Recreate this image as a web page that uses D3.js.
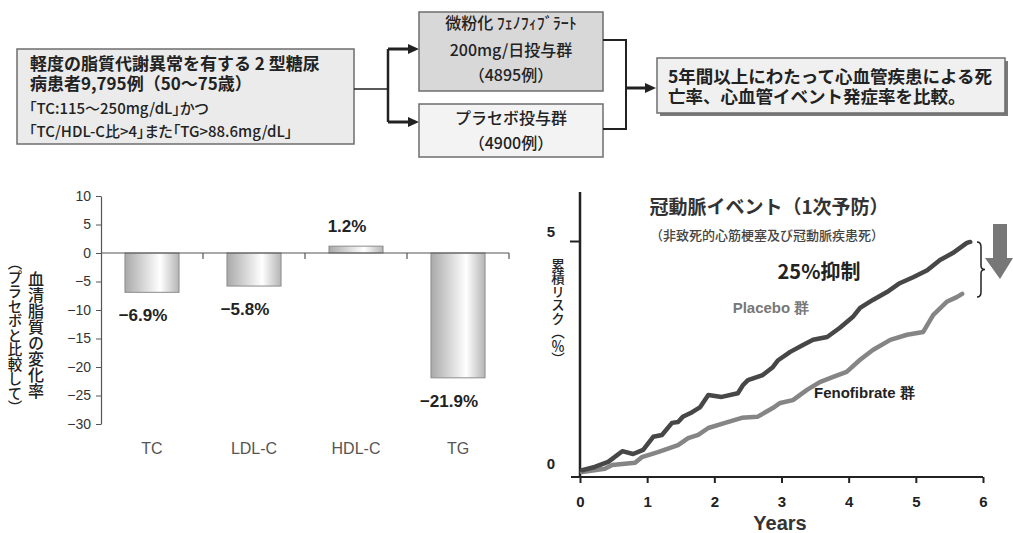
<!DOCTYPE html>
<html>
<head>
<meta charset="utf-8">
<script src="https://cdn.jsdelivr.net/npm/d3@7"></script>
<style>
  html, body { margin: 0; padding: 0; background: #fff; }
  svg { display: block; }
</style>
</head>
<body>
<svg id="chart" width="1013" height="533"></svg>
<script>
// ---- Lipid change vs placebo (%) ----
const categories = ["TC", "LDL-C", "HDL-C", "TG"];
const lipidChange = [-6.9, -5.8, 1.2, -21.9];
const barTicks = [10, 5, 0, -5, -10, -15, -20, -25, -30];

// ---- Cumulative coronary event risk (%) by year ----
const placeboYears = [0.03, 0.22, 0.42, 0.63, 0.79, 0.94, 1.09, 1.22, 1.37, 1.46, 1.53, 1.67, 1.79, 1.91, 2.11, 2.35, 2.43, 2.50, 2.72, 2.87, 2.95, 3.13, 3.32, 3.47, 3.68, 3.87, 4.06, 4.17, 4.36, 4.57, 4.76, 4.96, 5.17, 5.36, 5.55, 5.76, 5.81];
const placeboRisk  = [0.06, 0.13, 0.24, 0.47, 0.41, 0.50, 0.78, 0.82, 1.08, 1.10, 1.21, 1.31, 1.42, 1.68, 1.64, 1.72, 1.90, 2.00, 2.11, 2.28, 2.43, 2.61, 2.76, 2.87, 2.93, 3.13, 3.36, 3.56, 3.73, 3.90, 4.09, 4.22, 4.37, 4.59, 4.74, 4.96, 4.98];
const fenoYears = [0.03, 0.37, 0.48, 0.82, 0.92, 1.16, 1.46, 1.61, 1.76, 1.91, 2.16, 2.41, 2.64, 2.87, 2.98, 3.17, 3.38, 3.57, 3.77, 3.97, 4.17, 4.36, 4.62, 4.87, 5.11, 5.26, 5.46, 5.61, 5.69];
const fenoRisk  = [0.02, 0.09, 0.17, 0.22, 0.34, 0.45, 0.60, 0.75, 0.82, 0.97, 1.08, 1.19, 1.21, 1.40, 1.51, 1.57, 1.79, 1.96, 2.07, 2.18, 2.44, 2.65, 2.87, 2.98, 3.04, 3.41, 3.69, 3.79, 3.86];
const yearTicks = [0, 1, 2, 3, 4, 5, 6];
const riskTicks = [0, 5];

const JP = '"Noto Sans CJK JP", sans-serif';
const LAT = '"Liberation Sans", Arial, sans-serif';

const svg = d3.select("#chart");
const defs = svg.append("defs");

// Vertical (tategaki) text centred on (x, y)
function vtext(g, x, y, str, size, weight) {
  g.append("text").attr("x", x).attr("y", y)
    .attr("text-anchor", "middle").style("writing-mode", "vertical-rl")
    .attr("font-family", JP).attr("font-size", size).attr("font-weight", weight)
    .attr("fill", "#222").text(str);
}

// ================= Study design flow =================
const flow = svg.append("g");

function box(x, y, w, h, fill, shadow) {
  if (shadow) {
    flow.append("rect").attr("x", x + 3).attr("y", y + 3).attr("width", w).attr("height", h)
      .attr("fill", "#7a7a7a");
  }
  flow.append("rect").attr("x", x).attr("y", y).attr("width", w).attr("height", h)
    .attr("fill", fill).attr("stroke", "#6e6e6e").attr("stroke-width", 1.5);
}
function line(pts, w) {
  flow.append("path").attr("d", d3.line()(pts)).attr("fill", "none")
    .attr("stroke", "#222").attr("stroke-width", w);
}
function arrowHead(xTip, y) {
  flow.append("path")
    .attr("d", `M${xTip},${y} L${xTip - 11},${y - 5} L${xTip - 11},${y + 5} Z`)
    .attr("fill", "#222");
}
function txt(x, y, s, size, weight, anchor, fill) {
  return flow.append("text").attr("x", x).attr("y", y).text(s)
    .attr("font-family", JP).attr("font-size", size).attr("font-weight", weight)
    .attr("text-anchor", anchor || "start").attr("fill", fill || "#222");
}

// eligibility box
box(17, 49, 337, 95, "#ebebeb");
txt(30, 70, "軽度の脂質代謝異常を有する 2 型糖尿", 17, 700);
txt(30, 90, "病患者9,795例（50〜75歳）", 17, 700);
txt(29, 114, "「TC:115〜250mg/dL」かつ", 15, 500).style("font-feature-settings", '"palt"');
txt(29, 137, "「TC/HDL-C比>4」また「TG>88.6mg/dL」", 15, 500).style("font-feature-settings", '"palt"');

// split to two arms
line([[354, 89], [388, 89]], 1.5);
line([[388, 49], [388, 122]], 2.5);
line([[388, 49], [409, 49]], 3);
line([[388, 122], [409, 122]], 3);
arrowHead(419, 49);
arrowHead(419, 122);

// treatment arms
box(419, 12, 184, 79, "#d8d8d8");
txt(511, 29, "微粉化 ﾌｪﾉﾌｨﾌﾞﾗｰﾄ", 16, 500, "middle");
txt(511, 56, "200mg/日投与群", 16, 500, "middle");
txt(511, 81, "（4895例）", 16, 500, "middle");

box(419, 104, 184, 53, "#f3f3f3");
txt(511, 124, "プラセボ投与群", 16, 500, "middle");
txt(511, 149, "（4900例）", 16, 500, "middle");

// merge to outcome
line([[603, 40], [626, 40], [626, 129], [603, 129]], 2);
line([[626, 88], [646, 88]], 3);
arrowHead(656, 88);

box(657, 58, 348, 55, "#f0f0f0", true);
txt(668, 83, "5年間以上にわたって心血管疾患による死", 17.5, 700);
txt(668, 103, "亡率、心血管イベント発症率を比較。", 17.5, 700);

// ================= Bar chart: lipid change =================
const xB = d3.scaleBand().domain(categories).range([101, 509])
  .paddingInner(0.47).paddingOuter(0.235);
const yB = d3.scaleLinear().domain([-30, 10]).range([424, 196]);

const grad = defs.append("linearGradient").attr("id", "barGrad")
  .attr("x1", "0%").attr("x2", "100%").attr("y1", "0%").attr("y2", "0%");
grad.append("stop").attr("offset", "0%").attr("stop-color", "#a9a9a9");
grad.append("stop").attr("offset", "65%").attr("stop-color", "#ffffff");
grad.append("stop").attr("offset", "100%").attr("stop-color", "#b4b4b4");

const bars = svg.append("g");
const barData = categories.map((c, i) => ({ c, v: lipidChange[i] }));

bars.selectAll("rect").data(barData).join("rect")
  .attr("x", d => xB(d.c))
  .attr("width", xB.bandwidth())
  .attr("y", d => yB(Math.max(0, d.v)))
  .attr("height", d => Math.abs(yB(d.v) - yB(0)))
  .attr("fill", "url(#barGrad)")
  .attr("stroke", "#8c8c8c").attr("stroke-width", 1);

// y axis
const yAxisB = bars.append("g").attr("transform", "translate(101,0)")
  .call(d3.axisLeft(yB).tickValues(barTicks).tickSize(5).tickPadding(5).tickSizeOuter(0));
yAxisB.select(".domain").attr("stroke", "#555").attr("stroke-width", 1.2);
yAxisB.selectAll(".tick line").attr("stroke", "#555");
yAxisB.selectAll(".tick text").attr("font-family", LAT).attr("font-size", 14)
  .attr("fill", "#333");

// zero baseline with category separators
const step = xB.step();
const sepX = categories.map((c, i) => xB(c) - xB.paddingInner() * step / 2 + step);
bars.append("line").attr("x1", 101).attr("x2", 509).attr("y1", yB(0)).attr("y2", yB(0))
  .attr("stroke", "#555").attr("stroke-width", 1.2);
bars.selectAll("line.sep").data(sepX).join("line").attr("class", "sep")
  .attr("x1", d => d).attr("x2", d => d)
  .attr("y1", yB(0)).attr("y2", yB(0) + 6)
  .attr("stroke", "#555").attr("stroke-width", 1.2);

// category names
bars.selectAll("text.cat").data(categories).join("text").attr("class", "cat")
  .attr("x", d => xB(d) + xB.bandwidth() / 2)
  .attr("y", 454)
  .attr("text-anchor", "middle")
  .attr("font-family", LAT).attr("font-size", 16).attr("fill", "#555")
  .text(d => d);

// value labels
const fmt = d3.format(".1f");
bars.selectAll("text.val").data(barData).join("text").attr("class", "val")
  .attr("x", d => xB(d.c) + xB.bandwidth() / 2 - 9)
  .attr("y", d => d.v >= 0 ? yB(d.v) - 14 : yB(d.v) + 29)
  .attr("text-anchor", "middle")
  .attr("font-family", LAT).attr("font-size", 17).attr("font-weight", 700)
  .attr("fill", "#222")
  .text(d => fmt(d.v) + "%");

// vertical y-axis title
vtext(bars, 36, 335, "血清脂質の変化率", 16, 500);
vtext(bars, 15, 335, "（プラセボと比較して）", 14.5, 500);

// ================= Line chart: coronary events =================
const xL = d3.scaleLinear().domain([0, 6]).range([580, 983]);
const yL = d3.scaleLinear().domain([0, 5]).range([473, 241]);
const lc = svg.append("g");

const xAxisL = lc.append("g").attr("transform", "translate(0,477)")
  .call(d3.axisBottom(xL).tickValues(yearTicks).tickFormat(d3.format("d"))
    .tickSize(6).tickPadding(13).tickSizeOuter(0));
xAxisL.select(".domain").remove();
xAxisL.selectAll(".tick line").attr("stroke", "#222").attr("stroke-width", 2);
xAxisL.selectAll(".tick text").attr("font-family", LAT).attr("font-size", 15)
  .attr("font-weight", 700).attr("fill", "#222");
lc.append("line").attr("x1", 571).attr("x2", xL(6)).attr("y1", 477).attr("y2", 477)
  .attr("stroke", "#222").attr("stroke-width", 2);

const yAxisL = lc.append("g").attr("transform", "translate(580,0)")
  .call(d3.axisLeft(yL).tickValues(riskTicks).tickFormat(d3.format("d"))
    .tickSize(10).tickPadding(15).tickSizeOuter(0));
yAxisL.select(".domain").remove();
yAxisL.selectAll(".tick line").attr("stroke", "#222").attr("stroke-width", 2)
  .attr("opacity", d => d === 0 ? 0 : 1);
yAxisL.selectAll(".tick text").attr("font-family", LAT).attr("font-size", 15)
  .attr("font-weight", 700).attr("fill", "#222").attr("dy", "-0.28em");
lc.append("line").attr("x1", 580).attr("x2", 580).attr("y1", 192).attr("y2", 477)
  .attr("stroke", "#222").attr("stroke-width", 2.5);

const riskLine = d3.line().x(d => xL(d[0])).y(d => yL(d[1]));
lc.append("path").datum(d3.zip(fenoYears, fenoRisk))
  .attr("d", riskLine).attr("fill", "none").attr("stroke", "#858585")
  .attr("stroke-width", 4.5).attr("stroke-linejoin", "round").attr("stroke-linecap", "round");
lc.append("path").datum(d3.zip(placeboYears, placeboRisk))
  .attr("d", riskLine).attr("fill", "none").attr("stroke", "#474747")
  .attr("stroke-width", 4.5).attr("stroke-linejoin", "round").attr("stroke-linecap", "round");

// titles and annotations
lc.append("text").attr("x", 769).attr("y", 214).attr("text-anchor", "middle")
  .attr("font-family", JP).attr("font-size", 19).attr("font-weight", 700).attr("fill", "#333")
  .text("冠動脈イベント（1次予防）");
lc.append("text").attr("x", 767).attr("y", 240).attr("text-anchor", "middle")
  .attr("font-family", JP).attr("font-size", 13).attr("font-weight", 500).attr("fill", "#444")
  .text("（非致死的心筋梗塞及び冠動脈疾患死）");
lc.append("text").attr("x", 819).attr("y", 279).attr("text-anchor", "middle")
  .attr("font-family", JP).attr("font-size", 20).attr("font-weight", 700).attr("fill", "#222")
  .text("25%抑制");
lc.append("text").attr("x", 771).attr("y", 313).attr("text-anchor", "middle")
  .attr("font-family", LAT).attr("font-size", 15).attr("font-weight", 700).attr("fill", "#777")
  .text("Placebo 群");
lc.append("text").attr("x", 814).attr("y", 398)
  .attr("font-family", LAT).attr("font-size", 15).attr("font-weight", 700).attr("fill", "#222")
  .text("Fenofibrate 群");
lc.append("text").attr("x", 780).attr("y", 530).attr("text-anchor", "middle")
  .attr("font-family", LAT).attr("font-size", 20).attr("font-weight", 700).attr("fill", "#333")
  .text("Years");
vtext(lc, 558, 312, "累積リスク（％）", 13.5, 500);

// brace spanning the gap between the curve ends
const bTop = yL(placeboRisk[placeboRisk.length - 1]);
const bBot = yL(fenoRisk[fenoRisk.length - 1]) + 3;
const bMid = (bTop + bBot) / 2;
lc.append("path")
  .attr("d", `M977,${bTop} Q981,${bTop} 981,${bTop + 5} L981,${bMid - 4} Q981,${bMid} 985,${bMid}` +
             ` Q981,${bMid} 981,${bMid + 4} L981,${bBot - 5} Q981,${bBot} 977,${bBot}`)
  .attr("fill", "none").attr("stroke", "#222").attr("stroke-width", 1.5);

// reduction arrow
lc.append("path")
  .attr("d", "M993,224 L1007,224 L1007,258 L1013,258 L1000,279 L985,258 L993,258 Z")
  .attr("fill", "#777");
</script>
</body>
</html>
